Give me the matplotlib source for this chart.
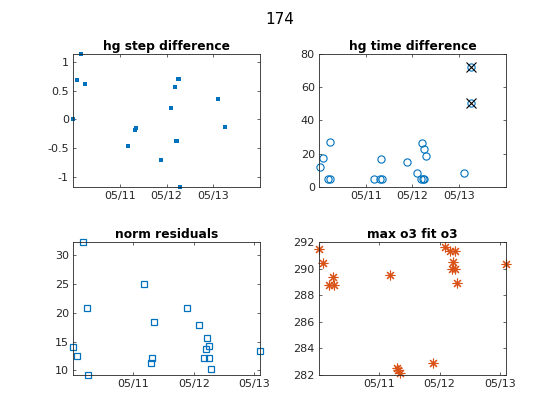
import numpy as np
import pandas as pd
import matplotlib
matplotlib.use('Agg')
import matplotlib.pyplot as plt
import matplotlib.dates as mdates
from matplotlib.ticker import FuncFormatter

# hg step difference
step_time = ['2019-05-10 00:00', '2019-05-10 01:54', '2019-05-10 04:06', '2019-05-10 06:00',
             '2019-05-11 04:06', '2019-05-11 07:42', '2019-05-11 08:24', '2019-05-11 21:16',
             '2019-05-12 02:14', '2019-05-12 04:18', '2019-05-12 04:38', '2019-05-12 05:30',
             '2019-05-12 05:50', '2019-05-12 06:30', '2019-05-12 06:52', '2019-05-13 02:24',
             '2019-05-13 06:00']
step_diff = [0.0, 0.68, 1.14, 0.62, -0.46, -0.18, -0.15, -0.71, 0.19, 0.56, -0.38, -0.38,
             0.70, 0.70, -1.18, 0.35, -0.14]

# hg time difference
td_time = ['2019-05-10 00:22', '2019-05-10 01:54', '2019-05-10 04:26', '2019-05-10 05:48',
           '2019-05-10 05:53', '2019-05-11 04:19', '2019-05-11 07:12', '2019-05-11 07:38',
           '2019-05-11 08:10', '2019-05-11 21:11', '2019-05-12 02:18', '2019-05-12 04:34',
           '2019-05-12 04:48', '2019-05-12 05:17', '2019-05-12 05:40', '2019-05-12 05:46',
           '2019-05-12 07:05', '2019-05-13 02:14', '2019-05-13 05:57', '2019-05-13 06:07']
time_diff = [12.2, 17.4, 4.8, 27.0, 4.8, 4.8, 4.8, 16.8, 4.8, 15.0, 8.4, 4.8, 26.4, 4.8,
             4.8, 23.0, 18.8, 8.4, 72.4, 50.4]
td_flag = [0, 0, 0, 0, 0, 0, 0, 0, 0, 0, 0, 0, 0, 0, 0, 0, 0, 0, 1, 1]

# fit results
fit_time = ['2019-05-10 00:10', '2019-05-10 01:44', '2019-05-10 04:12', '2019-05-10 05:46',
            '2019-05-10 06:07', '2019-05-11 04:11', '2019-05-11 07:15', '2019-05-11 07:38',
            '2019-05-11 08:07', '2019-05-11 21:16', '2019-05-12 02:17', '2019-05-12 04:08',
            '2019-05-12 04:48', '2019-05-12 05:07', '2019-05-12 05:59', '2019-05-12 06:14',
            '2019-05-12 06:46', '2019-05-13 02:17']
norm_resid = [14.06, 12.5, 32.3, 20.84, 9.2, 25.0, 11.28, 12.2, 18.4, 20.84, 17.9, 12.14,
              13.7, 15.6, 14.2, 12.14, 10.23, 13.36]
max_o3 = [291.47, 290.42, 288.78, 289.36, 288.78, 289.51, 282.5, 282.38, 282.18, 282.88,
          291.62, 291.29, 289.96, 290.49, 291.34, 289.96, 288.95, 290.37]

date_ticks = ['2019-05-11', '2019-05-12', '2019-05-13']
top_xlim = ['2019-05-10', '2019-05-14']

BLUE = '#0072BD'
ORANGE = '#D95319'
AXC = '#262626'

t_step = pd.to_datetime(step_time)
t_td = pd.to_datetime(td_time)
t_fit = pd.to_datetime(fit_time)
ticks = pd.to_datetime(date_ticks)
flag = np.array(td_flag, dtype=bool)

fig = plt.figure(figsize=(5.6, 4.2), dpi=100)
fig.suptitle('174', fontsize=11, y=0.972)

w, h = 0.3339, 0.3167
ax1 = fig.add_axes([0.1304, 0.5548, w, h])
ax2 = fig.add_axes([0.5696, 0.5548, w, h])
ax3 = fig.add_axes([0.1304, 0.1071, w, h])
ax4 = fig.add_axes([0.5696, 0.1071, w, h])

# MATLAB draws markers sitting on the axes limits in full
ax1.plot(t_step, step_diff, 's', color=BLUE, markersize=2.4, markeredgewidth=0, clip_on=False)
ax1.set_xlim(pd.to_datetime(top_xlim))
ax1.set_ylim(min(step_diff), max(step_diff))
ax1.set_yticks([-1, -0.5, 0, 0.5, 1])
ax1.set_title('hg step difference')

ax2.plot(t_td, time_diff, 'o', color=BLUE, markerfacecolor='none', markersize=5.2,
         markeredgewidth=0.8, clip_on=False)
ax2.plot(t_td[flag], np.array(time_diff)[flag], 'x', color='black', markersize=7,
         markeredgewidth=0.8)
ax2.set_xlim(pd.to_datetime(top_xlim))
ax2.set_ylim(0, 80)
ax2.set_yticks([0, 20, 40, 60, 80])
ax2.set_title('hg time difference')

ax3.plot(t_fit, norm_resid, 's', color=BLUE, markerfacecolor='none', markersize=5,
         markeredgewidth=0.9, clip_on=False)
ax3.set_xlim(t_fit.min(), t_fit.max())
ax3.set_ylim(min(norm_resid), max(norm_resid))
ax3.set_yticks([10, 15, 20, 25, 30])
ax3.set_title('norm residuals')

ax4.plot(t_fit, max_o3, marker=(8, 2, 0), linestyle='none', color=ORANGE, markersize=7,
         markeredgewidth=0.8, clip_on=False)
ax4.set_xlim(t_fit.min(), t_fit.max())
ax4.set_ylim(282, 292)
ax4.set_yticks([282, 284, 286, 288, 290, 292])
ax4.set_title('max o3 fit o3')

for ax in (ax1, ax2, ax3, ax4):
    ax.set_xticks(ticks)
    ax.xaxis.set_major_formatter(mdates.DateFormatter('%m/%d'))
    ax.yaxis.set_major_formatter(FuncFormatter(lambda v, p: '%g' % v))
    ax.tick_params(direction='in', length=2.5, width=0.5, labelsize=8, colors=AXC,
                   top=True, right=True, pad=3)
    for s in ax.spines.values():
        s.set_linewidth(0.6)
        s.set_color(AXC)
    ax.set_title(ax.get_title(), fontsize=8.8, fontweight='bold', pad=3)

fig.savefig('out.png', dpi=100)
